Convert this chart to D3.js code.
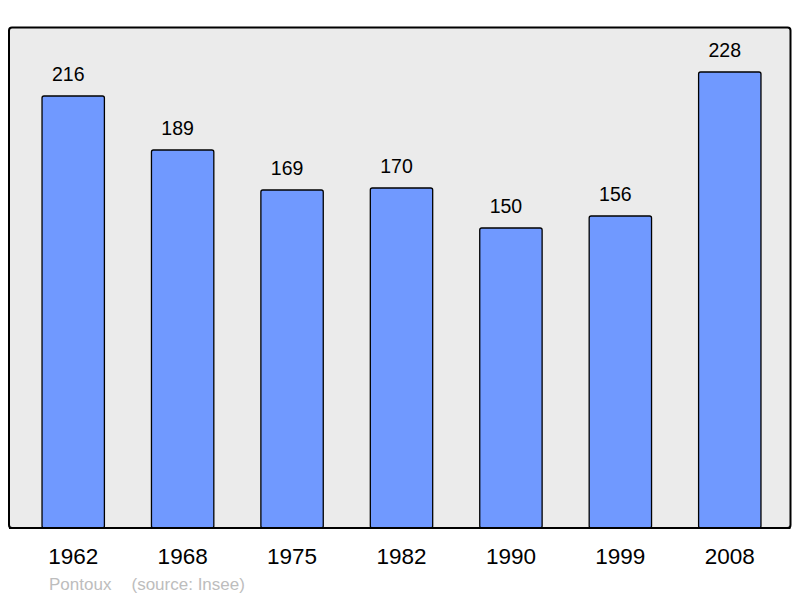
<!DOCTYPE html>
<html><head><meta charset="utf-8">
<script src="https://cdn.jsdelivr.net/npm/d3@7"></script>
<style>body{margin:0;background:#fff}svg{display:block}text{font-family:"Liberation Sans",Arial,sans-serif}</style>
</head><body>
<svg id="c" width="800" height="598"></svg>
<script>
const years = ["1962","1968","1975","1982","1990","1999","2008"];
const population = [216,189,169,170,150,156,228];
const footerLabels = ["Pontoux", "(source: Insee)"];

const svg = d3.select("#c");
const panel = {x0: 9, y0: 27.5, x1: 790.5, y1: 528};
svg.append("rect").attr("x", panel.x0).attr("y", panel.y0)
  .attr("width", panel.x1 - panel.x0).attr("height", panel.y1 - panel.y0)
  .attr("rx", 3).attr("fill", "#ebebeb").attr("stroke", "#000").attr("stroke-width", 2);

const x = d3.scaleBand().domain(years).range([18.5, 784.5]).paddingInner(0.43).paddingOuter(0.215);
const y = d3.scaleLinear().domain([0, 250]).range([528, 28]);

svg.selectAll("rect.bar").data(years).join("rect").attr("class","bar")
  .attr("x", d => x(d)).attr("width", x.bandwidth())
  .attr("y", (d,i) => y(population[i])).attr("height", (d,i) => y(0) - y(population[i]))
  .attr("rx", 2).attr("fill", "#7099ff").attr("stroke", "#000").attr("stroke-width", 1.3);

svg.append("line").attr("x1", panel.x0).attr("x2", panel.x1).attr("y1", panel.y1).attr("y2", panel.y1)
  .attr("stroke", "#000").attr("stroke-width", 2);

svg.selectAll("text.val").data(years).join("text").attr("class","val")
  .attr("x", d => x(d) + x.bandwidth()/2 - 5).attr("y", (d,i) => y(population[i]) - 15.5)
  .attr("text-anchor","middle").attr("font-size", 19.5).attr("fill","#000")
  .text((d,i) => population[i]);

const xAxis = svg.append("g").attr("transform", "translate(0,528)")
  .call(d3.axisBottom(x).tickSize(0).tickPadding(0));
xAxis.select(".domain").remove();
xAxis.selectAll("text").attr("y", 36).attr("dy", 0).attr("font-size", 22.5)
  .attr("fill", "#000").style("font-family", '"Liberation Sans",Arial,sans-serif');

svg.append("text").attr("x", 49).attr("y", 590).attr("font-size", 17).attr("fill", "#bdbdbd").text(footerLabels[0]);
svg.append("text").attr("x", 131.5).attr("y", 590).attr("font-size", 17).attr("fill", "#bdbdbd").text(footerLabels[1]);
</script>
</body></html>
